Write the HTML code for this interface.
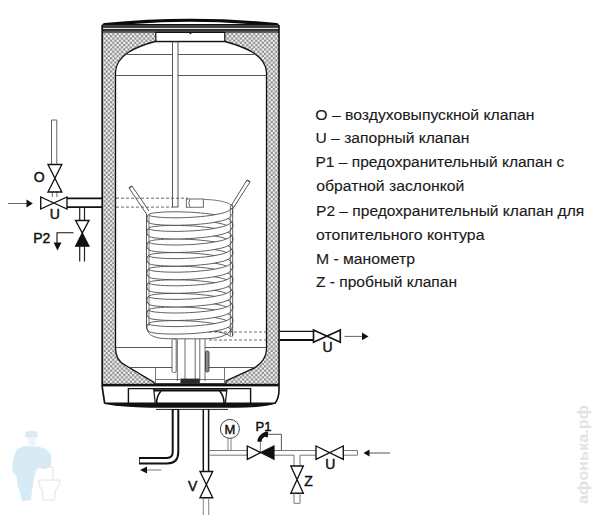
<!DOCTYPE html>
<html><head><meta charset="utf-8"><style>
html,body{margin:0;padding:0;background:#fff;}
body{width:600px;height:515px;overflow:hidden;position:relative;}
svg{position:absolute;left:0;top:0;}
</style></head><body>
<svg width="600" height="515" viewBox="0 0 600 515">
<defs>
<pattern id="ins" width="4.4" height="4.4" patternUnits="userSpaceOnUse">
<rect width="4.4" height="4.4" fill="#f4f4f4"/>
<rect x="0" y="0" width="2.2" height="2.2" fill="#8c8c8c"/>
<rect x="2.2" y="2.2" width="2.2" height="2.2" fill="#8c8c8c"/>
</pattern>
<path id="turn" d="M231.1,0.0 230.7,1.1 229.7,2.1 228.0,3.1 225.6,4.1 222.6,5.1 219.0,5.9 214.9,6.7 210.5,7.5 205.6,8.1 200.5,8.6 195.2,9.1 189.8,9.4 184.4,9.6 179.1,9.8 174.0,9.8 169.2,9.7 164.7,9.6 160.6,9.3 157.0,9.0 154.0,8.7 151.6,8.2 149.9,7.8 148.9,7.3 148.5,6.8 Q145.1,10.6 148.5,14.3 L148.9,14.8 149.9,15.3 151.6,15.7 154.0,16.2 157.0,16.5 160.6,16.8 164.7,17.1 169.2,17.2 174.0,17.3 179.1,17.3 184.4,17.1 189.8,16.9 195.2,16.6 200.5,16.1 205.6,15.6 210.5,15.0 214.9,14.2 219.0,13.4 222.6,12.6 225.6,11.6 228.0,10.6 229.7,9.6 230.7,8.6 231.1,7.5 Q234.5,3.8 231.1,0.0Z" fill="#fff" stroke="#3a3a3a" stroke-width="0.8"/>
<path id="back" d="M148.5,6.8 148.9,6.3 149.9,5.8 151.6,5.4 154.0,4.9 157.0,4.6 160.6,4.3 164.7,4.0 169.2,3.9 174.0,3.8 179.1,3.8 184.4,4.0 189.8,4.2 195.2,4.5 200.5,5.0 205.6,5.5 210.4,6.1 214.9,6.9 219.0,7.7 222.6,8.5 225.6,9.5 228.0,10.5 229.7,11.5 230.7,12.5 231.1,13.6 Q234.5,17.4 231.1,21.1 L230.7,20.0 229.7,19.0 228.0,18.0 225.6,17.0 222.6,16.0 219.0,15.2 214.9,14.4 210.4,13.6 205.6,13.0 200.5,12.5 195.2,12.0 189.8,11.7 184.4,11.5 179.1,11.3 174.0,11.3 169.2,11.4 164.7,11.5 160.6,11.8 157.0,12.1 154.0,12.4 151.6,12.9 149.9,13.3 148.9,13.8 148.5,14.3 Q145.1,10.6 148.5,6.8Z" fill="#fff" stroke="#3a3a3a" stroke-width="0.8"/>
</defs>

<!-- watermark plumber -->
<g fill="#d6ebf5" stroke="none">
<path d="M25.5,432 Q31,429.5 37.5,432 L37.5,437.5 L25.5,437.5 Z"/>
<path d="M17,449 Q25,445 32,446 L40,447 Q48,449 51,455 L51.5,464 Q49,469 43,469 L38,468 L35.5,472 L33.5,481 L32,491 L31,500 L22,501 L20,493 L17,483 L16.5,476 L12.5,472 Q11.5,460 17,449 Z"/>
</g>
<path d="M27.5,437.5 L36,437.5 L35,447 L29,447 Z" fill="#eef5f9"/>
<path d="M40.5,467 L53,467 L53,479.5 M38.5,480 L60,480 Q60,486 55.5,490 L54.5,500 L43,500 L42.5,491 Q38.5,487 38.5,480 Z" fill="none" stroke="#ecdede" stroke-width="1"/>
<!-- side vertical text -->
<text transform="translate(587.5,504) rotate(-90)" font-family="'Liberation Sans', sans-serif" font-size="14" font-weight="bold" fill="#e2e2e2" textLength="99" lengthAdjust="spacingAndGlyphs">афонька.рф</text>
<!-- insulation block -->
<rect x="103" y="32" width="176" height="353" fill="url(#ins)"/>
<!-- inner tank -->
<path d="M115.5,348 L115.5,72 C116.5,55 135,47 155,41.5 L225,41.5 C245,47 265.5,55 266.5,72 L266.5,349 Q266.5,360 255,367.6 L226,381 L226,384 L154,384 L154,382.4 L125,365 Q115.5,360 115.5,348 Z" fill="#fff" stroke="#111" stroke-width="1.3"/>
<!-- top shell -->
<path d="M102,32.4 L102,25.5 Q102,23.2 104.5,23 Q190.5,14.4 276.5,23 Q279,23.2 279,25.5 L279,32.4 Z" fill="#0a0a0a"/>
<path d="M133,24 Q190.5,19.4 248,24 Z" fill="#fff"/>
<rect x="102" y="24.9" width="177" height="1.9" fill="#444"/>
<rect x="102" y="27.7" width="177" height="1.3" fill="#ddd"/>
<rect x="102" y="29" width="177" height="1.9" fill="#333"/>
<rect x="102" y="30.9" width="177" height="1.5" fill="#555"/>
<!-- flange -->
<rect x="155.8" y="32.4" width="69" height="9" fill="#fff" stroke="#111" stroke-width="1.2"/>
<circle cx="190.5" cy="33.2" r="1" fill="#111"/>
<!-- outer walls -->
<path d="M102.2,25 L102.2,387 L104.7,403.5" fill="none" stroke="#111" stroke-width="1.7"/>
<path d="M279,25 L279,390 Q279,398 275,403.5" fill="none" stroke="#111" stroke-width="1.6"/>
<!-- horizontal dome lines -->
<line x1="127" y1="54.5" x2="254" y2="54.5" stroke="#444" stroke-width="0.9"/>
<line x1="116" y1="75.5" x2="266" y2="75.5" stroke="#444" stroke-width="0.9"/>
<path d="M116,347.5 L172,347.5 M205,347.5 L266,347.5" stroke="#444" stroke-width="0.9"/>
<path d="M130,367.5 L172,367.5 M205,367.5 L255,367.5" stroke="#444" stroke-width="0.9"/>
<path d="M155.5,379.5 L180,379.5 M200,379.5 L224.5,379.5" stroke="#555" stroke-width="0.8"/>
<line x1="155.5" y1="367.5" x2="155.5" y2="384" stroke="#555" stroke-width="0.8"/>
<line x1="224.5" y1="367.5" x2="224.5" y2="384" stroke="#555" stroke-width="0.8"/>
<!-- rod -->
<rect x="172.5" y="42" width="5.5" height="165" fill="#fff" stroke="#444" stroke-width="0.9"/>
<!-- dashed lines left pipe -->
<line x1="116" y1="198.2" x2="188" y2="198.2" stroke="#444" stroke-width="0.8" stroke-dasharray="3,2"/>
<line x1="116" y1="207.1" x2="172" y2="207.1" stroke="#444" stroke-width="0.8" stroke-dasharray="3,2"/>
<!-- sensor sleeve -->
<rect x="186.3" y="199" width="17" height="8.2" fill="#fff" stroke="#444" stroke-width="0.8"/>
<path d="M190,199.5 Q187.5,203 190,206.7" fill="none" stroke="#444" stroke-width="0.8"/>
<path d="M203.3,199.3 Q226,200 233,206" fill="none" stroke="#555" stroke-width="0.8"/>
<!-- coil -->
<clipPath id="cc"><rect x="140" y="195" width="100" height="142"/></clipPath>
<g clip-path="url(#cc)">
<use href="#back" y="208.0"/>
<use href="#back" y="221.6"/>
<use href="#back" y="235.2"/>
<use href="#back" y="248.8"/>
<use href="#back" y="262.4"/>
<use href="#back" y="276.0"/>
<use href="#back" y="289.6"/>
<use href="#back" y="303.2"/>
<use href="#back" y="316.8"/>
<use href="#turn" y="208.0"/>
<use href="#turn" y="221.6"/>
<use href="#turn" y="235.2"/>
<use href="#turn" y="248.8"/>
<use href="#turn" y="262.4"/>
<use href="#turn" y="276.0"/>
<use href="#turn" y="289.6"/>
<use href="#turn" y="303.2"/>
<use href="#turn" y="316.8"/>
</g>
<path d="M146.5,324 C146.5,335 152,338.8 172,338.8 L205,338.8 C222,338.5 231,334 232.5,326" fill="none" stroke="#3a3a3a" stroke-width="0.8"/>
<!-- coil side tubes -->
<line x1="146.5" y1="214" x2="146.5" y2="326" stroke="#444" stroke-width="0.9"/>
<line x1="149" y1="216" x2="149" y2="326" stroke="#444" stroke-width="0.7"/>
<line x1="230.3" y1="207" x2="230.3" y2="336" stroke="#444" stroke-width="0.7"/>
<line x1="232.7" y1="205" x2="232.7" y2="336" stroke="#444" stroke-width="0.9"/>
<!-- diagonal tubes -->
<path d="M129,188 L146.5,214 M132,186 L149,211" stroke="#444" stroke-width="0.9" fill="none"/>
<path d="M129,188 L132,186" stroke="#444" stroke-width="1.5"/>
<path d="M247,180 L230.3,207 M250,182 L232.7,209" stroke="#444" stroke-width="0.9" fill="none"/>
<path d="M247,180 L250,182" stroke="#444" stroke-width="1.5"/>
<!-- bottom pipes -->
<g stroke="#444" stroke-width="0.8">
<line x1="177.3" y1="339" x2="177.3" y2="381"/>
<line x1="185" y1="339" x2="185" y2="381"/>
<line x1="195.2" y1="339" x2="195.2" y2="381"/>
<line x1="199.8" y1="339" x2="199.8" y2="381"/>
<line x1="205" y1="339" x2="205" y2="381"/>
</g>
<rect x="172" y="339" width="4.2" height="33.5" rx="1.5" fill="#fff" stroke="#444" stroke-width="0.8"/>
<rect x="205.5" y="351" width="3.5" height="21" rx="1.5" fill="#888" stroke="#333" stroke-width="0.8"/>
<rect x="180.4" y="378.6" width="19.4" height="5" fill="#2a2a2a"/>
<!-- dashed lines right pipe -->
<line x1="209" y1="332" x2="266" y2="332" stroke="#444" stroke-width="0.8" stroke-dasharray="3,2"/>
<line x1="209" y1="340" x2="266" y2="340" stroke="#444" stroke-width="0.8" stroke-dasharray="3,2"/>
<!-- black bar -->
<rect x="102" y="383.8" width="177" height="2.6" fill="#111"/>
<!-- foot -->
<path d="M128.4,403 L128.4,388.6 L250.6,388.6 L250.6,403" fill="none" stroke="#111" stroke-width="1.4"/>
<path d="M154,390.3 L226.5,390.3" stroke="#111" stroke-width="2.2"/>
<path d="M153.6,388.6 L155.3,403 M227,388.6 L225.4,403" stroke="#111" stroke-width="1.2" fill="none"/>
<path d="M161,391 Q156.6,396 156.6,403 M219.6,391 Q224,396 224,403" stroke="#111" stroke-width="1.6" fill="none"/>
<path d="M104.5,402.5 L276,402.5 L276,403.6 Q264,407.6 236,407.7 L150,407.7 Q122,407.2 104.5,404 Z" fill="#111"/>
<path d="M156,409.4 L228,409.4" stroke="#222" stroke-width="1"/>

<!-- right outlet pipe -->
<path d="M279.5,331.4 L313,331.4" stroke="#111" stroke-width="1.4"/>
<path d="M279.5,340 L313,340" stroke="#111" stroke-width="1.9"/>
<g fill="#fff" stroke="#111" stroke-width="1.6">
<path d="M313.5,330 L313.5,342.3 L340.3,330 L340.3,342.3 Z"/>
</g>
<path d="M344.5,336.4 L364,336.4" stroke="#555" stroke-width="0.9"/>
<path d="M362,332.5 L368.5,336.4 L362,340.3 Z" fill="#111"/>

<!-- left pipes -->
<path d="M67,198.4 L102,198.4 M67,207.1 L102,207.1" stroke="#111" stroke-width="1.9"/>
<path d="M51.5,120 L51.5,164.5 M56.8,120 L56.8,164.5 M51.5,120 L56.8,120" stroke="#555" stroke-width="0.9" fill="none"/>
<path d="M52.3,192 L52.3,197 M56.9,192 L56.9,197" stroke="#555" stroke-width="0.9"/>
<!-- O valve (vertical) -->
<path d="M48,164.5 L61.8,164.5 L48,192 L61.8,192 Z" fill="#fff" stroke="#111" stroke-width="1.35"/>
<!-- U valve horizontal -->
<path d="M40.7,197 L40.7,209 L67,197 L67,209 Z" fill="#fff" stroke="#111" stroke-width="1.35"/>
<!-- arrow -->
<path d="M8,203.5 L28,203.5" stroke="#555" stroke-width="0.9"/>
<path d="M26.5,199.5 L32.8,203.5 L26.5,207.5 Z" fill="#111"/>
<!-- down pipe to P2 -->
<path d="M79.7,207.5 L79.7,220.5 M84.5,207.5 L84.5,220.5" stroke="#222" stroke-width="1.2"/>
<!-- P2 valve -->
<path d="M75.6,220.5 L89,220.5 L82.3,233 Z" fill="#fff" stroke="#111" stroke-width="1.35"/>
<path d="M82.3,233 L75.6,246.2 L89,246.2 Z" fill="#111" stroke="#111" stroke-width="1.2"/>
<path d="M79.7,246.2 L79.7,261.5 M84.5,246.2 L84.5,261.5" stroke="#222" stroke-width="1.2"/>
<path d="M73.5,232.8 L57,232.8 L57,243" stroke="#111" stroke-width="1.1" fill="none"/>
<path d="M53.6,242.4 L61.5,242.4 L57.5,250.6 Z" fill="#111"/>

<!-- bottom connections -->
<!-- hot outlet L pipe -->
<path d="M175.5,409 L175.5,452 Q175.5,460.7 167,460.7 L139,460.7" fill="none" stroke="#111" stroke-width="7.6"/>
<path d="M175.5,409.9 L175.5,452 Q175.5,460.7 167,460.7 L139.8,460.7" fill="none" stroke="#fff" stroke-width="3.6"/>
<path d="M145,470 L161.3,470" stroke="#666" stroke-width="0.9"/>
<path d="M147,466.5 L140,470 L147,473.5 Z" fill="#111"/>
<!-- cold inlet vertical -->
<path d="M203.3,409 L203.3,471.5 M208.6,409 L208.6,471.5" stroke="#111" stroke-width="1.5"/>
<!-- V valve -->
<path d="M200,471.5 L212.7,471.5 L200,497.7 L212.7,497.7 Z" fill="#fff" stroke="#111" stroke-width="1.35"/>
<path d="M203.3,497.7 L203.3,515 M208.7,497.7 L208.7,515" stroke="#777" stroke-width="0.9"/>
<!-- horizontal pipe bottom -->
<path d="M209.3,450.5 L247.3,450.5 M209.3,455.2 L247.3,455.2" stroke="#777" stroke-width="1"/>
<path d="M274,450.5 L316,450.5 M274,455.2 L294,455.2 M300,455.2 L316,455.2 M343.3,450.5 L357.5,450.5 M343.3,455.2 L357.5,455.2 M357.5,450.5 L357.5,455.2" stroke="#777" stroke-width="1"/>
<!-- M gauge -->
<circle cx="229.9" cy="428.9" r="9.5" fill="#fff" stroke="#444" stroke-width="1"/>
<path d="M228,437.6 L228,450.5 M231,437.6 L231,450.5" stroke="#777" stroke-width="0.9"/>
<!-- P1 valve -->
<path d="M247.3,446 L247.3,459.3 L260.6,452.6 Z" fill="#fff" stroke="#111" stroke-width="1.35"/>
<path d="M260.6,452.6 L274,446 L274,459.3 Z" fill="#111" stroke="#111" stroke-width="1.2"/>
<path d="M260.4,452.6 L260.4,441" stroke="#111" stroke-width="1.1" stroke-dasharray="1.2,0.8"/>
<path d="M257.3,441.8 Q257.8,435 265.5,431.6 L268.2,431.8 L267.8,437.5 L264.5,436.8 Q261.6,438.5 261.6,441.8 Z" fill="#111"/>
<path d="M268,434.3 L281.4,434.3 L281.4,450.5" stroke="#555" stroke-width="1" fill="none"/>
<!-- Z branch -->
<path d="M294,455.2 L294,466 M300,455.2 L300,466" stroke="#777" stroke-width="1"/>
<path d="M290.8,466 L303.3,466 L290.8,493.2 L303.3,493.2 Z" fill="#fff" stroke="#111" stroke-width="1.35"/>
<path d="M294,493.2 L294,503.3 M300,493.2 L300,503.3 M294,503.3 L300,503.3" stroke="#777" stroke-width="1"/>
<!-- U valve bottom -->
<path d="M316,446 L316,459.3 L343.3,446 L343.3,459.3 Z" fill="#fff" stroke="#111" stroke-width="1.35"/>
<path d="M368,453 L390,453" stroke="#555" stroke-width="1"/>
<path d="M369.5,449.6 L363.5,453 L369.5,456.4 Z" fill="#111"/>

<!-- labels -->
<g font-family="'Liberation Sans', sans-serif" font-size="14" fill="#111" stroke="#111" stroke-width="0.45">
<text x="33.8" y="181.5">O</text>
<text x="49.8" y="219">U</text>
<text x="33.2" y="242.5">P2</text>
<text x="322.4" y="352">U</text>
<text x="255.5" y="430.8" font-size="13">P1</text>
<text x="224.4" y="433.8" font-size="13">M</text>
<text x="188" y="490.5">V</text>
<text x="304.3" y="486">Z</text>
<text x="325.2" y="468.7">U</text>
</g>
<g font-family="Liberation Sans, sans-serif" font-size="14" fill="#1a1a1a" stroke="#1a1a1a" stroke-width="0.12">
<text x="315.3" y="119.5" textLength="219.2" lengthAdjust="spacingAndGlyphs">O – воздуховыпускной клапан</text>
<text x="315.5" y="143" textLength="153.8" lengthAdjust="spacingAndGlyphs">U – запорный клапан</text>
<text x="315.5" y="167" textLength="248.8" lengthAdjust="spacingAndGlyphs">P1 – предохранительный клапан с</text>
<text x="316.25" y="190.5" textLength="148.0" lengthAdjust="spacingAndGlyphs">обратной заслонкой</text>
<text x="316" y="215.5" textLength="268.2" lengthAdjust="spacingAndGlyphs">P2 – предохранительный клапан для</text>
<text x="316" y="239.5" textLength="168.5" lengthAdjust="spacingAndGlyphs">отопительного контура</text>
<text x="316" y="263.75" textLength="99.0" lengthAdjust="spacingAndGlyphs">M - манометр</text>
<text x="316" y="287" textLength="141.0" lengthAdjust="spacingAndGlyphs">Z - пробный клапан</text>
</g>
</svg>
</body></html>
